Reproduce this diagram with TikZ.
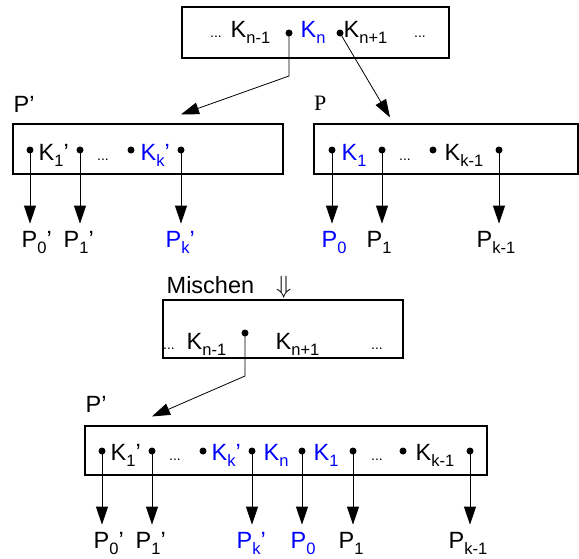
\documentclass[tikz,border=0pt]{standalone}
\usepackage{fontspec}
\setmainfont{Liberation Sans}
\newfontfamily\timesfont{Liberation Serif}
\usepackage{tikz}
\usetikzlibrary{positioning, arrows.meta}

% subscript and small dots
\newcommand{\lo}[1]{\raisebox{-6pt}{\fontsize{16.5}{17}\selectfont #1}}
\newcommand{\dd}{{\fontsize{14}{14}\selectfont ...}}

\begin{document}
\begin{tikzpicture}[
    x=1pt, y=-1pt,
    font=\fontsize{23.5}{28}\selectfont,
    box/.style={rectangle, draw, line width=1.1pt, inner sep=0pt},
    key/.style={anchor=base west, inner sep=0pt},
    ptr/.style={circle, fill, inner sep=0pt, minimum size=7pt},
    arrow/.style={-{Triangle[length=18pt, width=12pt]}, line width=0.8pt},
    hot/.style={text=blue}
]
\useasboundingbox (0,0) rectangle (579,558);

% Parent node
\node (root) [box, minimum width=267pt, minimum height=51pt] at (315.5,32.5) {};
\node (rd0) [key] at (210,37) {\dd};
\node (rk0) [key] at (230.5,37) {K\lo{n-1}};
\node (rp0) [ptr] at (289,33) {};
\node (rk1) [key, hot] at (300.5,37) {K\lo{n}};
\node (rp1) [ptr] at (340,33) {};
\node (rk2) [key] at (343.5,37) {K\lo{n+1}};
\node (rd1) [key] at (414,37) {\dd};

% Left child P'
\node (left) [box, minimum width=270pt, minimum height=50pt] at (148,149) {};
\node (lname) [key] at (13.5,112) {P’};
\node (lp0) [ptr] at (30,150) {};
\node (lk0) [key] at (38.5,160) {K\lo{1}’};
\node (lp1) [ptr] at (80,150) {};
\node (ld0) [key] at (97,160) {\dd};
\node (lp2) [ptr] at (131,150) {};
\node (lk1) [key, hot] at (140.5,160) {K\lo{k}’};
\node (lp3) [ptr] at (181,150) {};

% Right child P
\node (right) [box, minimum width=264pt, minimum height=50pt] at (446,149) {};
\node (rname) [key, font=\fontsize{22}{24}\timesfont] at (314,110) {P};
\node (qp0) [ptr] at (332,150) {};
\node (qk0) [key, hot] at (341.5,160) {K\lo{1}};
\node (qp1) [ptr] at (382,150) {};
\node (qd0) [key] at (399,160) {\dd};
\node (qp2) [ptr] at (433,150) {};
\node (qk1) [key] at (444.5,160) {K\lo{k-1}};
\node (qp3) [ptr] at (499,150) {};

% Subtrees of the children
\node (ls0) [key] at (21.5,247) {P\lo{0}’};
\node (ls1) [key] at (63.5,247) {P\lo{1}’};
\node (ls2) [key, hot] at (165.5,247) {P\lo{k}’};
\node (qs0) [key, hot] at (321.5,247) {P\lo{0}};
\node (qs1) [key] at (366.5,247) {P\lo{1}};
\node (qs2) [key] at (476.5,247) {P\lo{k-1}};

\draw [arrow] (rp0.center) -- ++(0,43) -- ([yshift=9pt]lp3 |- left.north);
\draw [arrow] (rp1.center) -- ([shift={(-56pt,6pt)}]right.north);
\draw [arrow] (lp0.center) -- ([yshift=7pt]lp0 |- ls0.north);
\draw [arrow] (lp1.center) -- ([yshift=7pt]lp1 |- ls1.north);
\draw [arrow] (lp3.center) -- ([yshift=7pt]lp3 |- ls2.north);
\draw [arrow] (qp0.center) -- ([yshift=7pt]qp0 |- qs0.north);
\draw [arrow] (qp1.center) -- ([yshift=7pt]qp1 |- qs1.north);
\draw [arrow] (qp3.center) -- ([yshift=7pt]qp3 |- qs2.north);

% Merge step
\node (mix) [key] at (166.5,293) {Mischen};
\node (mixarrow) [key] at (276,293) {$\Big\Downarrow$};

% Parent after merging
\node (merged) [box, minimum width=240pt, minimum height=58pt] at (283,329) {};
\node (md0) [key] at (163,349) {\dd};
\node (mk0) [key] at (186.5,349) {K\lo{n-1}};
\node (mp0) [ptr] at (245,333) {};
\node (mk1) [key] at (275.5,349) {K\lo{n+1}};
\node (md1) [key] at (371,349) {\dd};

% Merged node P'
\node (result) [box, minimum width=402pt, minimum height=49pt] at (286,450.5) {};
\node (bname) [key] at (85.5,412) {P’};
\node (bp0) [ptr] at (102,451) {};
\node (bk0) [key] at (110.5,460) {K\lo{1}’};
\node (bp1) [ptr] at (152,451) {};
\node (bd0) [key] at (169,460) {\dd};
\node (bp2) [ptr] at (203,451) {};
\node (bk1) [key, hot] at (211.5,460) {K\lo{k}’};
\node (bp3) [ptr] at (252,451) {};
\node (bk2) [key, hot] at (263.5,460) {K\lo{n}};
\node (bp4) [ptr] at (302,451) {};
\node (bk3) [key, hot] at (313.5,460) {K\lo{1}};
\node (bp5) [ptr] at (353,451) {};
\node (bd1) [key] at (371,460) {\dd};
\node (bp6) [ptr] at (403,451) {};
\node (bk4) [key] at (415.5,460) {K\lo{k-1}};
\node (bp7) [ptr] at (470,451) {};

\node (bs0) [key] at (93.5,548) {P\lo{0}’};
\node (bs1) [key] at (135.5,548) {P\lo{1}’};
\node (bs2) [key, hot] at (236.5,548) {P\lo{k}’};
\node (bs3) [key, hot] at (290.5,548) {P\lo{0}};
\node (bs4) [key] at (338.5,548) {P\lo{1}};
\node (bs5) [key] at (448.5,548) {P\lo{k-1}};

\draw [arrow] (mp0.center) -- ++(0,43) -- ([yshift=9pt]bp1 |- result.north);
\draw [arrow] (bp0.center) -- ([yshift=7pt]bp0 |- bs0.north);
\draw [arrow] (bp1.center) -- ([yshift=7pt]bp1 |- bs1.north);
\draw [arrow] (bp3.center) -- ([yshift=7pt]bp3 |- bs2.north);
\draw [arrow] (bp4.center) -- ([yshift=7pt]bp4 |- bs3.north);
\draw [arrow] (bp5.center) -- ([yshift=7pt]bp5 |- bs4.north);
\draw [arrow] (bp7.center) -- ([yshift=7pt]bp7 |- bs5.north);

\end{tikzpicture}
\end{document}
